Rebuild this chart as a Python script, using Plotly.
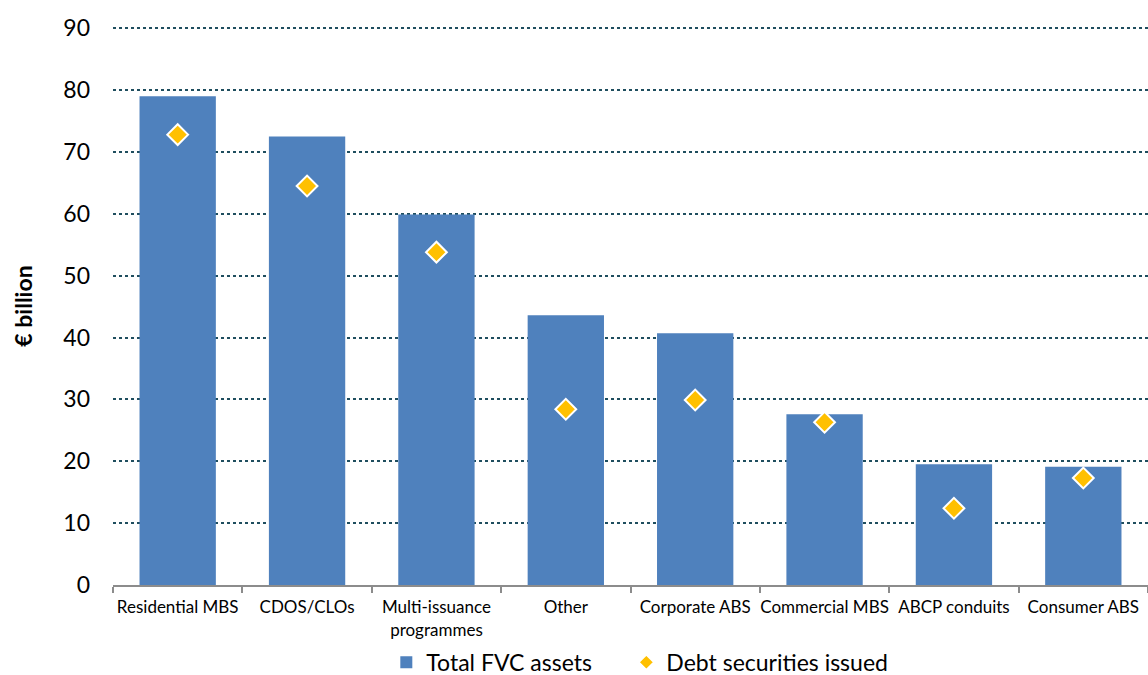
import plotly.graph_objects as go

categories = ["Residential MBS", "CDOS/CLOs", "Multi-issuance<br>programmes", "Other",
              "Corporate ABS", "Commercial MBS", "ABCP conduits", "Consumer ABS"]
total_fvc_assets = [79.0, 72.5, 59.9, 43.6, 40.7, 27.6, 19.5, 19.1]
debt_securities_issued = [72.8, 64.5, 53.8, 28.4, 29.9, 26.3, 12.4, 17.3]
y_ticks = [0, 10, 20, 30, 40, 50, 60, 70, 80, 90]

FONT = "Lato"

fig = go.Figure()
fig.add_trace(go.Bar(
    x=categories, y=total_fvc_assets, name="Total FVC assets" + "\u00a0" * 5,
    marker=dict(color="#4F81BD", line=dict(width=0)),
    width=0.59,
))
fig.add_trace(go.Scatter(
    x=categories, y=debt_securities_issued, name="Debt securities issued",
    mode="markers",
    marker=dict(symbol="diamond", size=16, color="#FFC000", line=dict(color="white", width=2)),
))

fig.update_layout(
    width=1148, height=675,
    margin=dict(l=113, r=0, t=27, b=90, autoexpand=False),
    plot_bgcolor="white", paper_bgcolor="white",
    font=dict(family=FONT, color="#000000"),
    showlegend=True,
    legend=dict(orientation="h", x=0.509, xanchor="center", y=-0.1, yanchor="top",
                font=dict(size=23, family=FONT), traceorder="normal",
                itemsizing="constant"),
    bargap=0.41,
)
fig.update_xaxes(
    automargin=False, tickangle=0,
    showline=True, linecolor="#8C8C8C", linewidth=2,
    ticks="outside", tickson="boundaries", ticklen=6, tickcolor="#8C8C8C", tickwidth=2,
    tickfont=dict(size=17, family=FONT), showgrid=False, ticklabelstandoff=6,
)
fig.update_yaxes(
    automargin=False,
    range=[0, 90.2], tickvals=y_ticks, showgrid=True,
    gridcolor="#1F4E5F", griddash="dot", gridwidth=1.5,
    zeroline=False, showline=False,
    tickfont=dict(size=23, family=FONT), ticks="", ticklabelstandoff=22,
    title=dict(text="<b>€ billion</b>", font=dict(size=23, family=FONT), standoff=24),
)

fig.write_html("out.html")
